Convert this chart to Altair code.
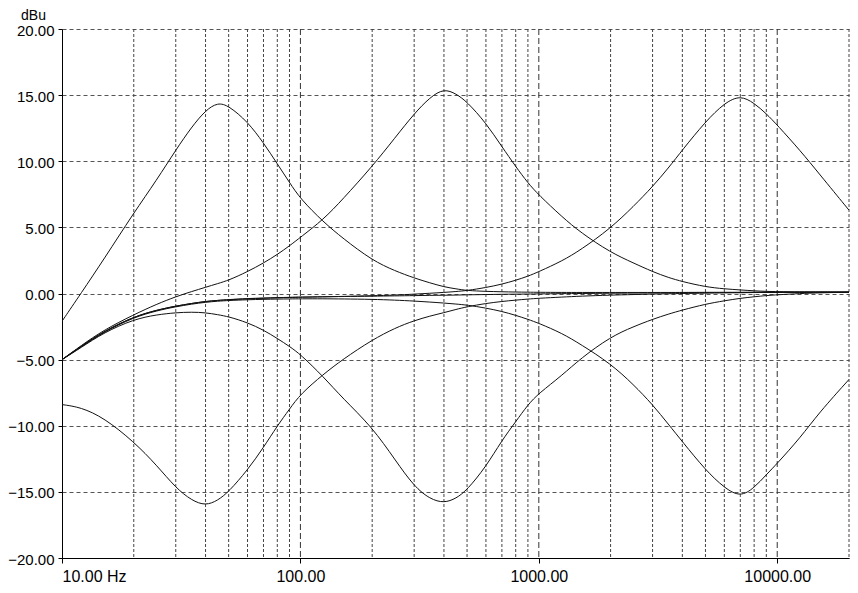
import altair as alt
import pandas as pd

freqs = [10, 12, 15, 20, 25, 30, 35, 40, 45, 50,
         60, 70, 80, 90, 100,
         125, 150, 200, 250, 300,
         350, 400, 450, 500, 600,
         700, 800, 900, 1000, 1250,
         1500, 2000, 2500, 3000, 3500,
         4000, 5000, 6000, 7000, 8000,
         9000, 10000, 12500, 15000, 20000]

low_boost = [-2.1, 0.0, 2.6, 6.1, 8.6, 10.85, 12.6, 13.85, 14.45, 14.2,
             13.0, 11.4, 9.8, 8.4, 7.15,
             5.4, 4.2, 2.5, 1.7, 1.17,
             0.8, 0.5, 0.35, 0.22, 0.16,
             0.13, 0.11, 0.1, 0.09, 0.08,
             0.08, 0.08, 0.08, 0.08, 0.08,
             0.08, 0.09, 0.09, 0.09, 0.1,
             0.1, 0.1, 0.1, 0.1, 0.1]

low_cut = [-8.4, -8.6, -9.4, -11.2, -13.0, -14.7, -15.65, -16.05, -15.65, -15.0,
           -13.35, -11.65, -10.0, -8.75, -7.6,
           -6.1, -5.0, -3.5, -2.6, -2.05,
           -1.7, -1.45, -1.2, -1.0, -0.75,
           -0.6, -0.5, -0.42, -0.36, -0.27,
           -0.2, -0.12, -0.08, -0.04, -0.02,
           0.0, 0.03, 0.05, 0.06, 0.07,
           0.08, 0.08, 0.09, 0.1, 0.1]

mid_boost = [-5.0, -3.95, -2.75, -1.6, -0.8, -0.24, 0.15, 0.47, 0.75, 1.0,
             1.65, 2.3, 2.95, 3.6, 4.25,
             5.6, 7.1, 9.6, 11.8, 13.6,
             14.85, 15.5, 15.1, 14.5, 12.9,
             11.1, 9.6, 8.35, 7.45, 5.8,
             4.6, 3.1, 2.3, 1.65, 1.2,
             0.9, 0.5, 0.35, 0.27, 0.2,
             0.16, 0.14, 0.12, 0.11, 0.1]

mid_cut = [-5.0, -4.1, -2.95, -1.95, -1.6, -1.45, -1.4, -1.45, -1.6, -1.75,
           -2.2, -2.76, -3.4, -4.0, -4.6,
           -6.3, -7.9, -10.1, -12.6, -14.6,
           -15.55, -15.85, -15.5, -14.86, -13.1,
           -11.1, -9.7, -8.4, -7.55, -6.2,
           -4.9, -3.27, -2.5, -1.95, -1.55,
           -1.25, -0.8, -0.55, -0.36, -0.25,
           -0.15, -0.1, 0.0, 0.05, 0.1]

high_boost = [-5.0, -4.0, -2.85, -1.75, -1.25, -0.95, -0.75, -0.6, -0.52, -0.47,
              -0.4, -0.36, -0.33, -0.3, -0.28,
              -0.25, -0.22, -0.17, -0.12, -0.05,
              0.02, 0.08, 0.15, 0.22, 0.45,
              0.7, 1.0, 1.3, 1.65, 2.45,
              3.3, 4.93, 6.6, 8.08, 9.5,
              10.85, 13.0, 14.4, 15.0, 14.4,
              13.6, 12.74, 10.8, 9.05, 6.3]

high_cut = [-5.0, -4.05, -2.9, -1.8, -1.3, -1.0, -0.8, -0.66, -0.58, -0.53,
            -0.47, -0.44, -0.42, -0.41, -0.4,
            -0.4, -0.41, -0.44, -0.5, -0.57,
            -0.65, -0.72, -0.8, -0.87, -1.1,
            -1.35, -1.65, -1.95, -2.25, -3.0,
            -3.85, -5.3, -6.9, -8.4, -9.9,
            -11.2, -13.35, -14.7, -15.4, -14.7,
            -13.7, -12.85, -10.9, -9.0, -6.5]

flat = [-5.0, -4.0, -2.85, -1.75, -1.25, -0.95, -0.75, -0.6, -0.52, -0.46,
        -0.38, -0.34, -0.31, -0.29, -0.27,
        -0.25, -0.23, -0.2, -0.18, -0.16,
        -0.14, -0.13, -0.12, -0.1, -0.08,
        -0.06, -0.05, -0.04, -0.03, -0.01,
        0.0, 0.02, 0.03, 0.04, 0.05,
        0.05, 0.06, 0.07, 0.07, 0.08,
        0.08, 0.09, 0.09, 0.1, 0.1]

# Axis / grid values
x_label_values = [10, 100, 1000, 10000]
y_values = [-20, -15, -10, -5, 0, 5, 10, 15, 20]
minor_grid_freqs = [20, 30, 40, 50, 60, 70, 80, 90,
                    200, 300, 400, 500, 600, 700, 800, 900,
                    2000, 3000, 4000, 5000, 6000, 7000, 8000, 9000,
                    20000]
major_grid_freqs = [100, 1000, 10000]

curves = {
    "low_boost": low_boost, "low_cut": low_cut,
    "mid_boost": mid_boost, "mid_cut": mid_cut,
    "high_boost": high_boost, "high_cut": high_cut,
    "flat": flat,
}
rows = []
for name, vals in curves.items():
    for f, v in zip(freqs, vals):
        rows.append({"curve": name, "freq": f, "db": v})
df = pd.DataFrame(rows)

FONT = "Liberation Sans"
xscale = alt.Scale(type="log", domain=[10, 20000], nice=False)
yscale = alt.Scale(domain=[-20, 20], nice=False)

xaxis = alt.Axis(
    values=x_label_values,
    labelExpr="datum.value == 10 ? '10.00 Hz' : format(datum.value, '.2f')",
    labelFlush=True, labelOverlap=False, grid=False,
    tickSize=5, tickColor="black", domainColor="black",
    labelFont=FONT, labelFontSize=16, labelColor="black", labelPadding=5,
    title=None,
)
yaxis = alt.Axis(
    values=y_values, format=".2f", grid=True, gridDash=[4, 3],
    gridColor="#555555", gridWidth=1,
    tickSize=4, tickColor="black", domainColor="black",
    labelFont=FONT, labelFontSize=15, labelColor="black", labelPadding=4,
    labelOffset=1,
    title="dBu", titleAngle=0, titleX=-29, titleY=-10, titleAlign="center",
    titleBaseline="alphabetic", titleFont=FONT, titleFontSize=14,
    titleFontWeight="normal", titleColor="black",
)

minor = alt.Chart(pd.DataFrame({"freq": minor_grid_freqs})).mark_rule(
    color="#444444", strokeDash=[3, 2], strokeWidth=1
).encode(x=alt.X("freq:Q", scale=xscale, axis=xaxis))

major = alt.Chart(pd.DataFrame({"freq": major_grid_freqs})).mark_rule(
    color="#333333", strokeDash=[6, 3], strokeWidth=1
).encode(x=alt.X("freq:Q", scale=xscale, axis=xaxis))

lines = alt.Chart(df).mark_line(
    color="#111111", strokeWidth=1, interpolate="basis", clip=True
).encode(
    x=alt.X("freq:Q", scale=xscale, axis=xaxis),
    y=alt.Y("db:Q", scale=yscale, axis=yaxis),
    detail="curve:N",
)

chart = alt.layer(minor, major, lines).properties(
    width=787, height=529,
    autosize=alt.AutoSizeParams(type="none"),
    padding={"left": 54, "top": 21, "right": 1, "bottom": 27},
    background="white",
).configure_view(stroke=None)

chart.save("out.html", embed_options={"renderer": "svg", "actions": False})
